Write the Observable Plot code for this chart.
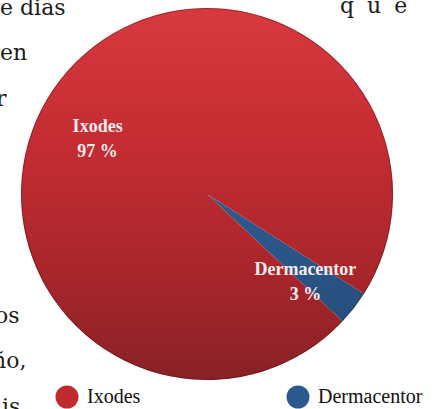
<!DOCTYPE html>
<html>
<head>
<meta charset="utf-8">
<script src="https://cdn.jsdelivr.net/npm/d3@7"></script>
<script src="https://cdn.jsdelivr.net/npm/@observablehq/plot@0.6"></script>
<style>
  body { margin: 0; background: #ffffff; }
  #wrap { position: relative; width: 434px; height: 409px; overflow: hidden; }
  #bg, #legend { position: absolute; left: 0; top: 0; }
  #chart { position: absolute; left: 0; top: 0; }
</style>
</head>
<body>
<div id="wrap">
  <svg id="bg" width="434" height="409"></svg>
  <div id="chart"></div>
  <svg id="legend" width="434" height="409"></svg>
</div>
<script>
// ---- data ----
const categories = ["Dermacentor", "Ixodes"];
const values = [3, 97];
const percentLabels = ["3 %", "97 %"];
const colors = ["#2d5a8e", "#be2a30"];
const legendOrder = ["Ixodes", "Dermacentor"];
// fragments of the surrounding page text
const pageText = ["e dias", "en", "r", "q u e", "os", "ño,", "is"];

// ---- layout of the pie ----
const startDeg = 122.4;
const data = categories.map((c, i) => ({name: c, value: values[i], label: c + "\n" + percentLabels[i], color: colors[i]}));
const pie = d3.pie().value(d => d.value).sort(null)
  .startAngle(startDeg * Math.PI / 180)
  .endAngle((startDeg + 360) * Math.PI / 180);
const arcs = pie(data);
const labelR = 0.7;
arcs.forEach(a => {
  const m = (a.startAngle + a.endAngle) / 2;
  a.lx = labelR * Math.sin(m);
  a.ly = labelR * Math.cos(m);
  a.name = a.data.name;
  a.text = a.data.label;
});

const SVGNS = "http://www.w3.org/2000/svg";
function pieMark(index, scales) {
  const {x, y} = scales;
  const cx = x(0), cy = y(0), r = x(1) - x(0);
  const g = d3.select(document.createElementNS(SVGNS, "g"));
  const defs = g.append("defs");
  const grads = {
    "Ixodes": ["#d7393f", "#c52d33", "#a9262c", "#882126"],
    "Dermacentor": ["#3868a3", "#305e93", "#2a5486", "#234772"]
  };
  Object.entries(grads).forEach(([k, stops]) => {
    const lg = defs.append("linearGradient").attr("id", "grad-" + k)
      .attr("gradientUnits", "userSpaceOnUse")
      .attr("x1", 0).attr("y1", -r).attr("x2", 0).attr("y2", r);
    [0, 35, 70, 100].forEach((o, j) =>
      lg.append("stop").attr("offset", o + "%").attr("stop-color", stops[j]));
  });
  const arc = d3.arc().innerRadius(0).outerRadius(r);
  const gg = g.append("g").attr("transform", `translate(${cx},${cy})`);
  gg.selectAll("path").data(arcs).join("path")
    .attr("d", arc)
    .attr("fill", d => `url(#grad-${d.data.name})`);
  gg.append("circle").attr("r", r - 0.5)
    .attr("fill", "none").attr("stroke", "rgba(60,10,12,0.35)").attr("stroke-width", 1);
  return g.node();
}

const labelStyle = {x: "lx", y: "ly", text: "text", fill: "#f7ecec", fontSize: 18, fontWeight: "bold", fontFamily: "Liberation Serif, serif", lineHeight: 1.4};

const chart = Plot.plot({
  width: 434,
  height: 384,
  marginLeft: 21,
  marginRight: 41,
  marginTop: 8,
  marginBottom: 4,
  x: {domain: [-1, 1], axis: null},
  y: {domain: [-1, 1], axis: null},
  style: {background: "transparent", overflow: "visible"},
  marks: [
    pieMark,
    Plot.text(arcs.filter(d => d.name === "Ixodes"), {...labelStyle, dx: -7, dy: 22}),
    Plot.text(arcs.filter(d => d.name === "Dermacentor"), {...labelStyle, dx: -5, dy: 5})
  ]
});
document.getElementById("chart").appendChild(chart);

// ---- background page text fragments ----
const bgPos = [[0, 15], [0, 60], [-4, 106], [340, 13], [-5, 323], [-8, 368], [2, 414]];
const bg = d3.select("#bg");
pageText.forEach((t, i) => {
  bg.append("text").attr("x", bgPos[i][0]).attr("y", bgPos[i][1])
    .attr("font-family", "DejaVu Serif, serif").attr("font-size", 22)
    .attr("fill", "#1c1c1c")
    .attr("letter-spacing", t === "q u e" ? 3 : 0)
    .text(t);
});

// ---- legend ----
const lg = d3.select("#legend");
const legendX = [67, 298];
legendOrder.forEach((name, i) => {
  const c = colors[categories.indexOf(name)];
  lg.append("circle").attr("cx", legendX[i]).attr("cy", 397).attr("r", 11.5).attr("fill", c);
  lg.append("text").attr("x", legendX[i] + 20).attr("y", 403)
    .attr("font-family", "Liberation Serif, serif").attr("font-size", 20)
    .attr("fill", "#111").text(name);
});
</script>
</body>
</html>
